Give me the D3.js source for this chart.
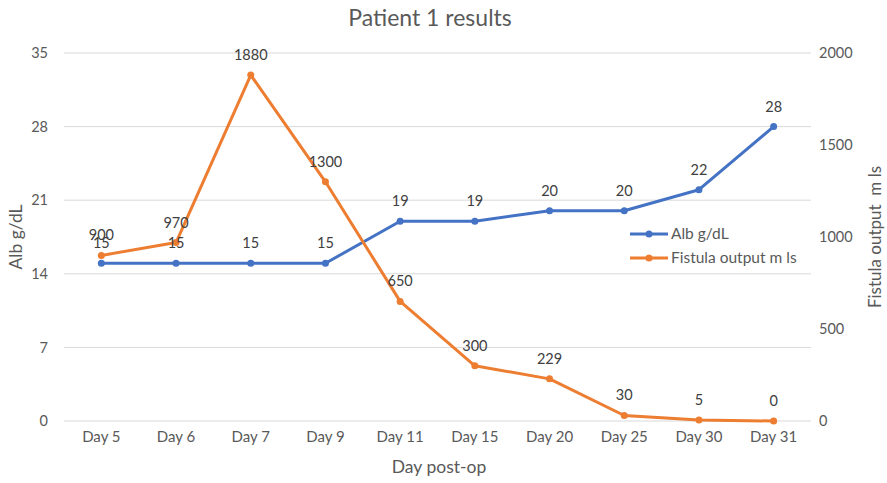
<!DOCTYPE html>
<html><head><meta charset="utf-8">
<script src="https://cdn.jsdelivr.net/npm/d3@7"></script>
<style>body{margin:0;background:#fff;} text{font-family:Lato,"Open Sans",sans-serif;}</style>
</head><body><svg id="c" width="887" height="483"></svg>
<script>
const categories = ["Day 5","Day 6","Day 7","Day 9","Day 11","Day 15","Day 20","Day 25","Day 30","Day 31"];
const albValues = [15,15,15,15,19,19,20,20,22,28];
const fistulaValues = [900,970,1880,1300,650,300,229,30,5,0];
const leftTicks = [0,7,14,21,28,35];
const rightTicks = [0,500,1000,1500,2000];
const seriesNames = ["Alb g/dL","Fistula output m ls"];

const svg = d3.select("#c");
const L = 64, R = 811, T = 53, B = 421;
const txt = "#595959";
const x = d3.scaleBand().domain(categories).range([L,R]);
const yL = d3.scaleLinear().domain([0,35]).range([B,T]);
const yR = d3.scaleLinear().domain([0,2000]).range([B,T]);
const cx = d => x(d) + x.bandwidth()/2;

svg.append("g").selectAll("line").data(leftTicks).join("line")
  .attr("x1",L).attr("x2",R).attr("y1",d=>yL(d)).attr("y2",d=>yL(d))
  .attr("stroke","#d9d9d9").attr("stroke-width",1);

const gl = svg.append("g").attr("transform",`translate(${L},0)`)
  .call(d3.axisLeft(yL).tickValues(leftTicks).tickSize(0).tickPadding(16));
gl.select(".domain").remove();
gl.selectAll("text").attr("fill",txt).style("font-size","14.5px");

const gr = svg.append("g").attr("transform",`translate(${R},0)`)
  .call(d3.axisRight(yR).tickValues(rightTicks).tickFormat(d3.format("d")).tickSize(0).tickPadding(8));
gr.select(".domain").remove();
gr.selectAll("text").attr("fill",txt).style("font-size","14.5px");

const gb = svg.append("g").attr("transform",`translate(0,${B})`)
  .call(d3.axisBottom(x).tickSize(0).tickPadding(10));
gb.select(".domain").remove();
gb.selectAll("text").attr("fill",txt).style("font-size","15px");

svg.append("text").attr("x",430).attr("y",26).attr("text-anchor","middle")
  .attr("fill",txt).style("font-size","23px").text("Patient 1 results");
svg.append("text").attr("x",439).attr("y",473).attr("text-anchor","middle")
  .attr("fill",txt).style("font-size","17.5px").text("Day post-op");
svg.append("text").attr("transform","translate(22,237) rotate(-90)").attr("text-anchor","middle")
  .attr("fill",txt).style("font-size","17.5px").text("Alb g/dL");
svg.append("text").attr("transform","translate(881,237) rotate(-90)").attr("text-anchor","middle")
  .attr("fill",txt).style("font-size","17px").attr("xml:space","preserve").style("white-space","pre").text("Fistula output  m ls");

const colors = ["#4472c4","#ed7d31"];
function drawSeries(vals, y, color){
  const pts = categories.map((c,i)=>[cx(c), y(vals[i])]);
  svg.append("path").attr("d", d3.line()(pts)).attr("fill","none")
    .attr("stroke",color).attr("stroke-width",3).attr("stroke-linejoin","round");
  svg.append("g").selectAll("circle").data(pts).join("circle")
    .attr("cx",d=>d[0]).attr("cy",d=>d[1]).attr("r",3.5).attr("fill",color);
}
drawSeries(albValues, yL, colors[0]);
drawSeries(fistulaValues, yR, colors[1]);

function labels(vals, y){
  svg.append("g").selectAll("text").data(vals).join("text")
    .attr("x",(d,i)=>cx(categories[i])).attr("y",d=>y(d)-15)
    .attr("text-anchor","middle").attr("fill","#404040").style("font-size","14.5px").text(d=>d);
}
labels(fistulaValues, yR);
labels(albValues, yL);

seriesNames.forEach((n,i)=>{
  const ly = 234 + i*24;
  svg.append("line").attr("x1",630).attr("x2",668).attr("y1",ly).attr("y2",ly)
    .attr("stroke",colors[i]).attr("stroke-width",3);
  svg.append("circle").attr("cx",649).attr("cy",ly).attr("r",3.5).attr("fill",colors[i]);
  svg.append("text").attr("x",671).attr("y",ly+5).attr("fill",txt).style("font-size","15.5px").text(n);
});
</script></body></html>
